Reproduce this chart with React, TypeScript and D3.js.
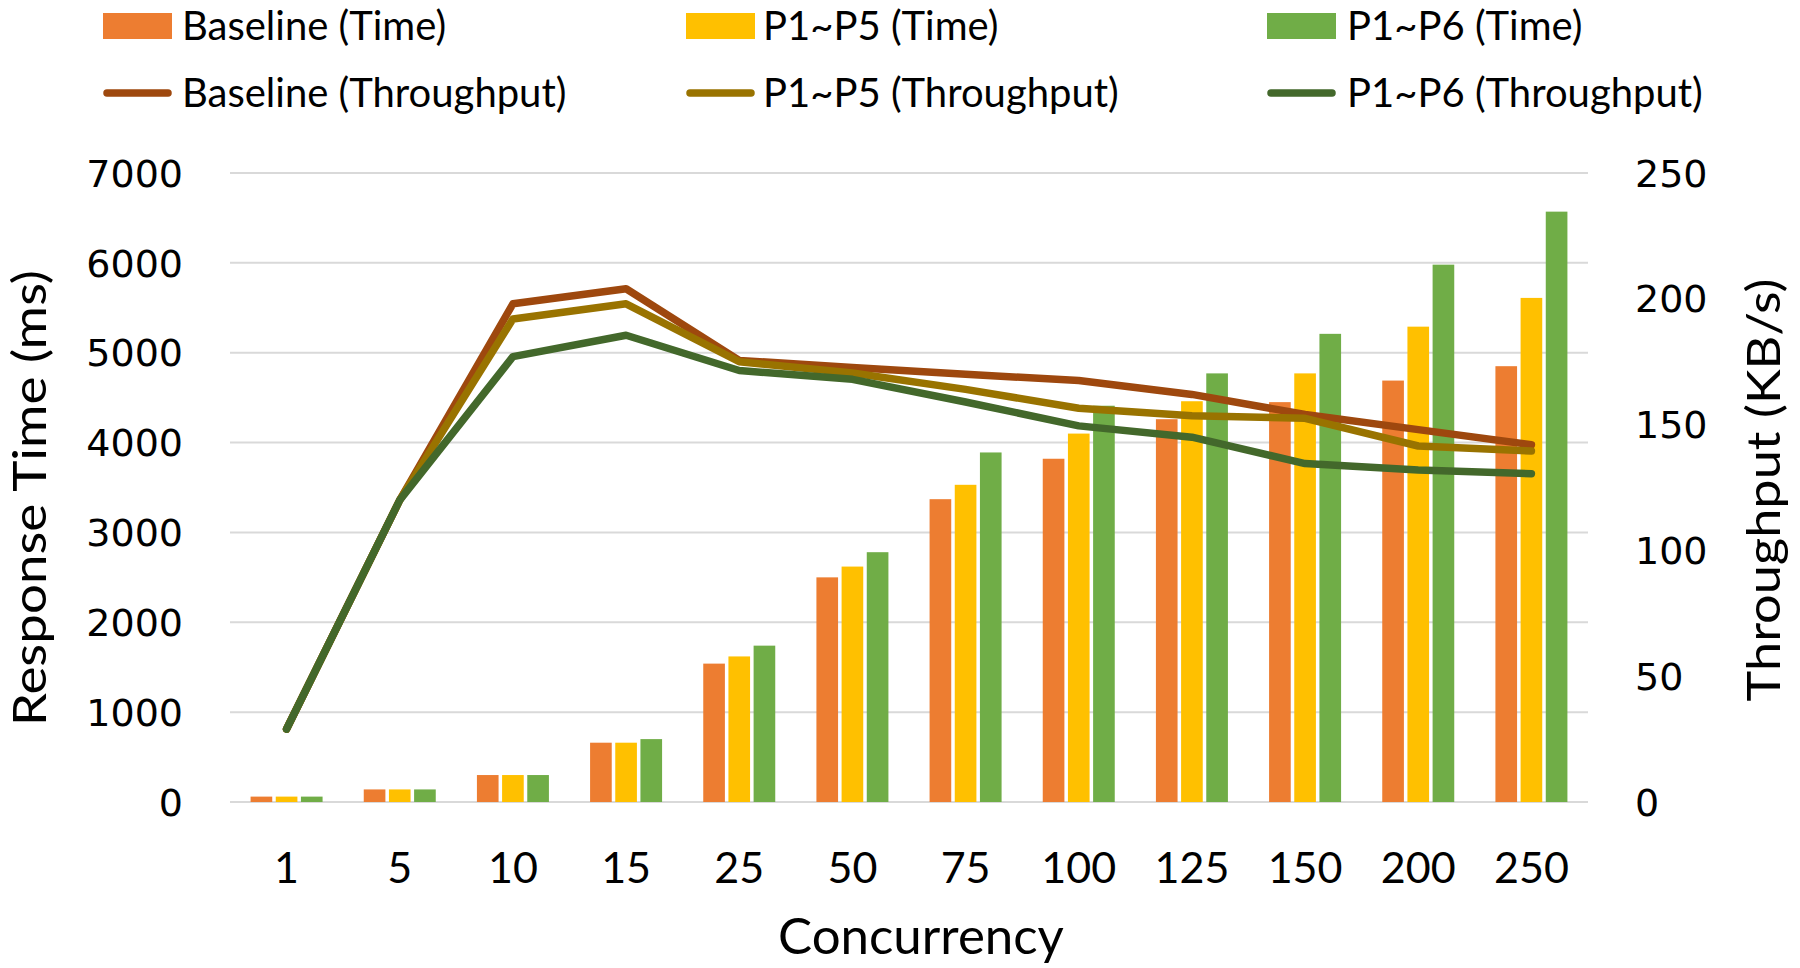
import React from "react";
import * as d3 from "d3";

const categories = ["1", "5", "10", "15", "25", "50", "75", "100", "125", "150", "200", "250"];

const baselineTime = [60, 140, 300, 660, 1540, 2500, 3370, 3820, 4260, 4450, 4690, 4850];
const p15Time = [60, 140, 300, 660, 1620, 2620, 3530, 4100, 4460, 4770, 5290, 5610];
const p16Time = [60, 140, 300, 700, 1740, 2780, 3890, 4410, 4770, 5210, 5980, 6570];

const baselineTp = [29, 120, 198, 204, 175.5, 172.7, 170, 167.5, 162, 154, 148, 142];
const p15Tp = [29, 120, 192, 198, 175, 170.5, 164, 156.5, 153.5, 152.5, 141.5, 139.5];
const p16Tp = [29, 120, 177, 185.5, 171.5, 168, 159, 149.5, 145, 134.5, 132, 130.5];

const leftTicks = [0, 1000, 2000, 3000, 4000, 5000, 6000, 7000];
const rightTicks = [0, 50, 100, 150, 200, 250];

const barSeries = [
  { key: "Baseline (Time)", values: baselineTime, color: "#ED7D31" },
  { key: "P1~P5 (Time)", values: p15Time, color: "#FFC000" },
  { key: "P1~P6 (Time)", values: p16Time, color: "#70AD47" },
];
const lineSeries = [
  { key: "Baseline (Throughput)", values: baselineTp, color: "#9E480E" },
  { key: "P1~P5 (Throughput)", values: p15Tp, color: "#997300" },
  { key: "P1~P6 (Throughput)", values: p16Tp, color: "#43682B" },
];

const TEXT_FONT = "Lato, 'Open Sans', sans-serif";
const NUM_FONT = "'DejaVu Sans', sans-serif";

export default function App() {
  const W = 1800;
  const H = 968;
  const left = 230;
  const right = 1588;
  const top = 173;
  const bottom = 802;

  const x0 = d3.scaleBand<string>().domain(categories).range([left, right]).padding(0);
  const x1 = d3
    .scaleBand<string>()
    .domain(barSeries.map((s) => s.key))
    .range([-36, 36])
    .paddingInner(0.14);
  const yL = d3.scaleLinear().domain([0, 7000]).range([bottom, top]);
  const yR = d3.scaleLinear().domain([0, 250]).range([bottom, top]);

  const cx = (c: string) => (x0(c) as number) + x0.bandwidth() / 2;

  const line = d3
    .line<number>()
    .x((_, i) => cx(categories[i]))
    .y((v) => yR(v));

  const legendCols = [103, 686, 1267];
  const legendTextX = [182, 763, 1347];
  const row1 = 26;
  const row2 = 93;

  return (
    <svg
      width={W}
      height={H}
      style={{ position: "absolute", left: 0, top: 0, background: "#fff" }}
    >
      <rect x={0} y={0} width={W} height={H} fill="#fff" />
      {/* gridlines */}
      {leftTicks.map((t) => (
        <line key={t} x1={left} x2={right} y1={yL(t)} y2={yL(t)} stroke="#D9D9D9" strokeWidth={2} />
      ))}
      {/* bars */}
      {barSeries.map((s) =>
        s.values.map((v, i) => {
          const c = categories[i];
          const bx = cx(c) + (x1(s.key) as number);
          return (
            <rect
              key={s.key + c}
              x={bx}
              y={yL(v)}
              width={x1.bandwidth()}
              height={yL(0) - yL(v)}
              fill={s.color}
            />
          );
        })
      )}
      {/* lines */}
      {lineSeries.map((s) => (
        <path
          key={s.key}
          d={line(s.values) || ""}
          fill="none"
          stroke={s.color}
          strokeWidth={7.5}
          strokeLinejoin="round"
          strokeLinecap="round"
        />
      ))}
      {/* left ticks */}
      {leftTicks.map((t) => (
        <text
          key={"l" + t}
          x={183}
          y={yL(t)}
          dy="0.36em"
          textAnchor="end"
          fontFamily={NUM_FONT}
          fontSize={38}
          fill="#000"
        >
          {t}
        </text>
      ))}
      {/* right ticks */}
      {rightTicks.map((t) => (
        <text
          key={"r" + t}
          x={1635}
          y={yR(t)}
          dy="0.36em"
          textAnchor="start"
          fontFamily={NUM_FONT}
          fontSize={38}
          fill="#000"
        >
          {t}
        </text>
      ))}
      {/* x tick labels */}
      {categories.map((c) => (
        <text
          key={"x" + c}
          x={cx(c)}
          y={868}
          dy="0.36em"
          textAnchor="middle"
          fontFamily={TEXT_FONT}
          fontSize={43}
          fill="#000"
        >
          {c}
        </text>
      ))}
      {/* axis titles */}
      <text x={921} y={936} dy="0.36em" textAnchor="middle" fontFamily={TEXT_FONT} fontSize={51} fill="#000">
        Concurrency
      </text>
      <text
        transform="translate(29,498) rotate(-90)"
        dy="0.36em"
        textAnchor="middle"
        fontFamily={TEXT_FONT}
        fontSize={46}
        textLength={456}
        lengthAdjust="spacingAndGlyphs"
        fill="#000"
      >
        Response Time (ms)
      </text>
      <text
        transform="translate(1763,490) rotate(-90)"
        dy="0.36em"
        textAnchor="middle"
        fontFamily={TEXT_FONT}
        fontSize={46}
        textLength={423}
        lengthAdjust="spacingAndGlyphs"
        fill="#000"
      >
        Throughput (KB/s)
      </text>
      {/* legend */}
      {barSeries.map((s, i) => (
        <g key={"lb" + s.key}>
          <rect x={legendCols[i]} y={row1 - 13} width={69} height={26} fill={s.color} />
          <text
            x={legendTextX[i]}
            y={row1}
            dy="0.36em"
            fontFamily={TEXT_FONT}
            fontSize={40}
            fill="#000"
          >
            {s.key}
          </text>
        </g>
      ))}
      {lineSeries.map((s, i) => (
        <g key={"ll" + s.key}>
          <line
            x1={legendCols[i] + 4}
            x2={legendCols[i] + 65}
            y1={row2}
            y2={row2}
            stroke={s.color}
            strokeWidth={7.5}
            strokeLinecap="round"
          />
          <text
            x={legendTextX[i]}
            y={row2}
            dy="0.36em"
            fontFamily={TEXT_FONT}
            fontSize={40}
            fill="#000"
          >
            {s.key}
          </text>
        </g>
      ))}
    </svg>
  );
}
